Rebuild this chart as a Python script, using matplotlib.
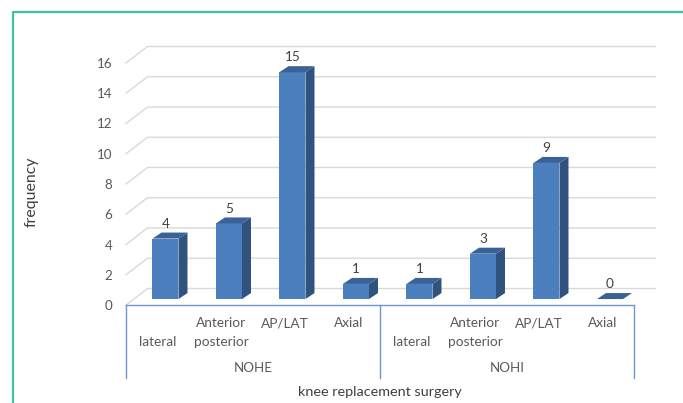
import matplotlib
matplotlib.use("Agg")
import matplotlib.pyplot as plt
from matplotlib.patches import Polygon
from matplotlib.lines import Line2D

plt.rcParams['font.family'] = ['Lato', 'DejaVu Sans']

# ---- data ----
groups = ["NOHE", "NOHI"]
views = ["\nlateral", "Anterior\nposterior", "AP/LAT", "Axial"]
nohe_values = [4, 5, 15, 1]
nohi_values = [1, 3, 9, 0]
yticks = [0, 2, 4, 6, 8, 10, 12, 14, 16]
xlabel = "knee replacement surgery"
ylabel = "frequency"

values = nohe_values + nohi_values
n = len(values)

W, H = 683, 403
fig = plt.figure(figsize=(W / 100, H / 100), dpi=100)
ax = fig.add_axes([126 / W, 1 - 305 / H, (634 - 126) / W, (305 - 63) / H])
ax.set_xlim(-0.5, n - 0.5)
ax.set_ylim(0, 16)
for s in ax.spines.values():
    s.set_visible(False)
ax.set_xticks([])
ax.set_yticks(yticks)
ax.set_yticklabels([str(t) for t in yticks], color="#595959", fontsize=9.6)
ax.tick_params(axis='y', length=0, pad=10)

pxx = (n) / (634 - 126)      # category units per px
pxy = 16 / (305 - 63)        # value units per px

# depth of the back wall
ddx = 21.5 * pxx
ddy = 16.5 * pxy
grid_c = "#d9d9d9"
for t in yticks:
    ax.add_line(Line2D([-0.5, -0.5 + ddx, n - 0.5 + ddx], [t, t + ddy, t + ddy],
                       color=grid_c, lw=1.0, clip_on=False, zorder=1))

# bars
f = 0.36
bx = f * ddx
by = f * ddy
bw = 26 * pxx
bdx = 9 * pxx
bdy = 6 * pxy
front_c = "#4b7fbe"
side_c = "#30527f"
top_c = "#3a6296"
for i, v in enumerate(values):
    cx = i + bx
    x0, x1 = cx - bw / 2, cx + bw / 2
    b = by
    if v > 0:
        ax.add_patch(Polygon([(x1, b), (x1 + bdx, b + bdy), (x1 + bdx, b + v + bdy), (x1, b + v)],
                             closed=True, fc=side_c, ec="none", clip_on=False, zorder=3))
        ax.add_patch(Polygon([(x0, b), (x1, b), (x1, b + v), (x0, b + v)],
                             closed=True, fc=front_c, ec="none", clip_on=False, zorder=3))
    ax.add_patch(Polygon([(x0, b + v), (x1, b + v), (x1 + bdx, b + v + bdy), (x0 + bdx, b + v + bdy)],
                         closed=True, fc=top_c, ec="none", clip_on=False, zorder=4))
    ax.annotate(str(v), (cx, b + v), xytext=(0, 10.6), textcoords="offset points",
                ha="center", va="center", fontsize=9.8, color="#404040", zorder=5)

# category axis
axis_c = "#6f96cf"
ax.add_line(Line2D([-0.5, n - 0.5], [0, 0], color=axis_c, lw=1.0, clip_on=False, zorder=6))
nv = len(views)
for k in range(len(groups) + 1):
    xd = -0.5 + k * nv
    ax.add_line(Line2D([xd, xd], [0, -73 * pxy], color=axis_c, lw=1.0, clip_on=False, zorder=6))

line_y = [-18 * pxy, -37 * pxy]
for g, grp in enumerate(groups):
    for j, lab in enumerate(views):
        i = g * nv + j
        for li, part in enumerate(lab.split("\n")):
            if part:
                ax.text(i, line_y[li], part, ha="center", va="center", fontsize=9.8,
                        color="#595959", clip_on=False)
    ax.text(g * nv + (nv - 1) / 2, -63 * pxy, grp, ha="center", va="center",
            fontsize=9.6, color="#595959", clip_on=False)

ax.text((n - 1) / 2, -87 * pxy, xlabel, ha="center", va="center", fontsize=10.4,
        color="#404040", clip_on=False)
fig.text(32 / W, 1 - 192 / H, ylabel, rotation=90, ha="center", va="center",
         fontsize=11.4, color="#404040")

# outer frame (teal)
teal = "#3fc1a8"
fig.add_artist(Line2D([12.5 / W, 12.5 / W, 1.0], [0, 1 - 11.5 / H, 1 - 11.5 / H],
                      transform=fig.transFigure, color=teal, lw=1.6))

fig.savefig("out.png", dpi=100)
